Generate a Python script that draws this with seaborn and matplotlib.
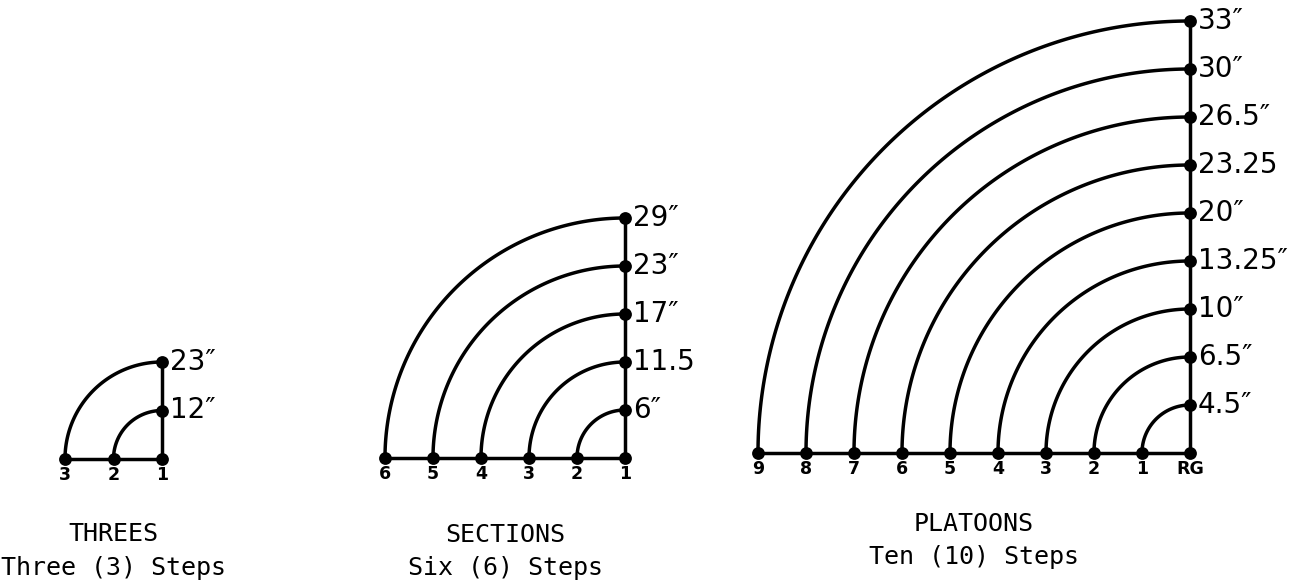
import numpy as np
import pandas as pd
import matplotlib
matplotlib.use("Agg")
import matplotlib.pyplot as plt
import seaborn as sns

# ---- data ----
threes_steps = ["1", "2", "3"]
threes_sizes = ["12″", "23″"]
sections_steps = ["1", "2", "3", "4", "5", "6"]
sections_sizes = ["6″", "11.5", "17″", "23″", "29″"]
platoons_steps = ["RG", "1", "2", "3", "4", "5", "6", "7", "8", "9"]
platoons_sizes = ["4.5″", "6.5″", "10″", "13.25″", "20″", "23.25", "26.5″", "30″", "33″"]
titles = ["THREES", "SECTIONS", "PLATOONS"]
subtitles = ["Three (3) Steps", "Six (6) Steps", "Ten (10) Steps"]

sns.set_theme(style="white")
plt.rcParams["font.family"] = ["DejaVu Sans"]

W, H = 1294, 586
fig = plt.figure(figsize=(W / 100, H / 100), dpi=100)
ax = fig.add_axes([0, 0, 1, 1])

diagrams = [
    dict(steps=threes_steps, sizes=threes_sizes, origin=(162, 459), step=48.5,
         title_y=541, sub_y=575),
    dict(steps=sections_steps, sizes=sections_sizes, origin=(625, 458), step=48.0,
         title_y=542, sub_y=575),
    dict(steps=platoons_steps, sizes=platoons_sizes, origin=(1190, 453), step=48.0,
         title_y=531, sub_y=564),
]

t = np.linspace(0, np.pi / 2, 120)
line_rows = []
dot_rows = []
uid = 0
for d_i, d in enumerate(diagrams):
    cx, cy = d["origin"]
    st = d["step"]
    n = len(d["sizes"])
    for xs, ys in [([cx - n * st, cx], [cy, cy]), ([cx, cx], [cy, cy - n * st])]:
        for x, y in zip(xs, ys):
            line_rows.append(dict(x=x, y=y, u=uid))
        uid += 1
    for k in range(1, n + 1):
        r = k * st
        for tt in t:
            line_rows.append(dict(x=cx - r * np.cos(tt), y=cy - r * np.sin(tt), u=uid))
        uid += 1
        dot_rows.append(dict(x=cx, y=cy - r))
        ax.text(cx + 8, cy - r, d["sizes"][k - 1], ha="left", va="center",
                fontsize=20, color="black")
    for k, lab in enumerate(d["steps"]):
        dot_rows.append(dict(x=cx - k * st, y=cy))
        ax.text(cx - k * st, cy + 21, lab, ha="center", va="baseline",
                fontsize=12.5, fontweight="bold", color="black")
    # titles centred under the baseline of each diagram
    title_x = cx - n * st / 2
    ax.text(title_x, d["title_y"], titles[d_i], ha="center", va="baseline",
            fontsize=18, family="DejaVu Sans Mono", color="black")
    ax.text(title_x, d["sub_y"], subtitles[d_i], ha="center", va="baseline",
            fontsize=18, family="DejaVu Sans Mono", color="black")

lines = pd.DataFrame(line_rows)
dots = pd.DataFrame(dot_rows)
sns.lineplot(data=lines, x="x", y="y", units="u", estimator=None, sort=False,
             color="black", linewidth=2.5, ax=ax, legend=False)
sns.scatterplot(data=dots, x="x", y="y", color="black", s=85, edgecolor="black",
                linewidth=0, ax=ax, legend=False, zorder=5)
ax.set_xlim(0, W)
ax.set_ylim(H, 0)
ax.axis("off")

fig.savefig("out.png", dpi=100, facecolor="white")
